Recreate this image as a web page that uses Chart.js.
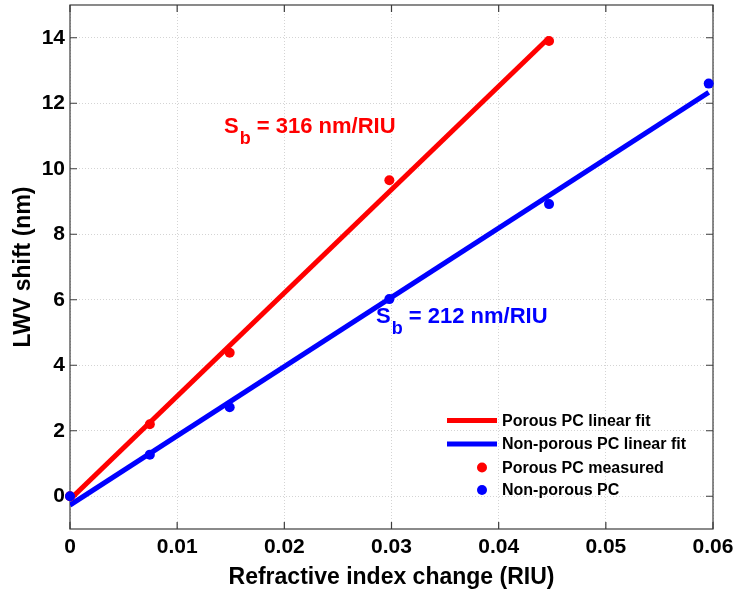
<!DOCTYPE html>
<html>
<head>
<meta charset="utf-8">
<title>LWV shift vs refractive index change</title>
<script src="https://cdn.jsdelivr.net/npm/chart.js@4"></script>
<style>
  html, body { margin: 0; padding: 0; background: #fff; }
  #wrap { width: 736px; height: 592px; }
</style>
</head>
<body>
<div id="wrap"><canvas id="lwvChart" width="736" height="592"></canvas></div>
<script>
// values
const riuChange = [0, 0.00745, 0.0149, 0.0298, 0.0447, 0.0596];
const porousShift = [0, 2.2, 4.38, 9.65, 13.9];
const nonPorousShift = [0, 1.27, 2.72, 6.02, 8.92, 12.6];

const porousFitX = [0, 0.0447];
const porousFitY = [-0.1, 14.0];
const nonPorousFitX = [0, 0.0596];
const nonPorousFitY = [-0.27, 12.33];

const xTicks = [0, 0.01, 0.02, 0.03, 0.04, 0.05, 0.06];
const yTicks = [0, 2, 4, 6, 8, 10, 12, 14];

const legendLabels = ['Porous PC linear fit', 'Non-porous PC linear fit', 'Porous PC measured', 'Non-porous PC'];
const sensLabels = ['316 nm/RIU', '212 nm/RIU'];

const RED = '#ff0000';
const BLUE = '#0000ff';
const FONT = 'Arial, "Liberation Sans", sans-serif';

function toPoints(xs, ys) {
  return ys.map((y, i) => ({ x: xs[i], y: y }));
}

// MATLAB style box + inward tick marks
const framePlugin = {
  id: 'frame',
  beforeDatasetsDraw(chart) {
    const { ctx, chartArea: a, scales } = chart;
    ctx.save();
    ctx.strokeStyle = '#3c3c3c';
    ctx.lineWidth = 1.2;
    ctx.strokeRect(a.left, a.top, a.right - a.left, a.bottom - a.top);
    ctx.beginPath();
    const len = 7;
    xTicks.forEach(v => {
      const px = scales.x.getPixelForValue(v);
      ctx.moveTo(px, a.bottom); ctx.lineTo(px, a.bottom - len);
      ctx.moveTo(px, a.top); ctx.lineTo(px, a.top + len);
    });
    yTicks.forEach(v => {
      const py = scales.y.getPixelForValue(v);
      ctx.moveTo(a.left, py); ctx.lineTo(a.left + len, py);
      ctx.moveTo(a.right, py); ctx.lineTo(a.right - len, py);
    });
    ctx.stroke();
    ctx.restore();
  }
};

// legend inside the plot, lower right
const innerLegend = {
  id: 'innerLegend',
  afterDraw(chart) {
    const { ctx } = chart;
    const x0 = 447, x1 = 497, dotX = 482, tx = 502;
    const rows = [420.5, 444, 467.5, 490];
    ctx.save();
    ctx.font = 'bold 16px ' + FONT;
    ctx.textBaseline = 'middle';
    chart.data.datasets.forEach((ds, i) => {
      const y = rows[i];
      if (ds.showLine) {
        ctx.strokeStyle = ds.borderColor;
        ctx.lineWidth = 5;
        ctx.beginPath();
        ctx.moveTo(x0, y); ctx.lineTo(x1, y);
        ctx.stroke();
      } else {
        ctx.fillStyle = ds.backgroundColor;
        ctx.beginPath();
        ctx.arc(dotX, y, 5, 0, Math.PI * 2);
        ctx.fill();
      }
      ctx.fillStyle = '#000';
      ctx.fillText(legendLabels[i], tx, y + 1);
    });
    ctx.restore();
  }
};

// S_b sensitivity labels
const sensPlugin = {
  id: 'sens',
  afterDraw(chart) {
    const { ctx } = chart;
    const spots = [
      { x: 224, y: 133, color: RED, text: sensLabels[0] },
      { x: 376, y: 323, color: BLUE, text: sensLabels[1] }
    ];
    ctx.save();
    ctx.textBaseline = 'alphabetic';
    spots.forEach(s => {
      ctx.fillStyle = s.color;
      ctx.font = 'bold 22px ' + FONT;
      ctx.fillText('S', s.x, s.y);
      let cx = s.x + ctx.measureText('S').width + 1;
      ctx.font = 'bold 18px ' + FONT;
      ctx.fillText('b', cx, s.y + 11);
      cx += ctx.measureText('b').width;
      ctx.font = 'bold 22px ' + FONT;
      ctx.fillText(' = ' + s.text, cx, s.y);
    });
    ctx.restore();
  }
};

const ctx = document.getElementById('lwvChart').getContext('2d');
new Chart(ctx, {
  type: 'scatter',
  data: {
    datasets: [
      {
        label: legendLabels[0],
        data: toPoints(porousFitX, porousFitY),
        showLine: true,
        borderColor: RED,
        backgroundColor: RED,
        borderWidth: 5,
        pointRadius: 0,
        order: 2
      },
      {
        label: legendLabels[1],
        data: toPoints(nonPorousFitX, nonPorousFitY),
        showLine: true,
        borderColor: BLUE,
        backgroundColor: BLUE,
        borderWidth: 5,
        pointRadius: 0,
        order: 2
      },
      {
        label: legendLabels[2],
        data: toPoints(riuChange, porousShift),
        showLine: false,
        backgroundColor: RED,
        borderColor: RED,
        pointRadius: 5,
        borderWidth: 0,
        clip: false,
        order: 1
      },
      {
        label: legendLabels[3],
        data: toPoints(riuChange, nonPorousShift),
        showLine: false,
        backgroundColor: BLUE,
        borderColor: BLUE,
        pointRadius: 5,
        borderWidth: 0,
        clip: false,
        order: 0
      }
    ]
  },
  options: {
    responsive: false,
    animation: false,
    layout: { padding: { top: 3, right: 23, left: 0, bottom: 0 } },
    plugins: {
      legend: { display: false },
      tooltip: { enabled: false }
    },
    scales: {
      x: {
        type: 'linear',
        min: 0,
        max: 0.06,
        afterBuildTicks: s => { s.ticks = xTicks.map(v => ({ value: v })); },
        afterFit: s => { s.height = 63; s.paddingLeft = 0; s.paddingRight = 0; },
        ticks: {
          color: '#000',
          font: { family: FONT, size: 21, weight: 'bold' },
          padding: 6,
          maxRotation: 0,
          callback: v => String(+v.toFixed(2))
        },
        grid: { color: '#d4d4d4', drawTicks: false, lineWidth: 1 },
        border: { display: false, dash: [1, 2] },
        title: {
          display: true,
          text: 'Refractive index change (RIU)',
          color: '#000',
          font: { family: FONT, size: 23, weight: 'bold' },
          padding: { top: 0, bottom: 1 }
        }
      },
      y: {
        type: 'linear',
        min: -1,
        max: 15,
        afterBuildTicks: s => { s.ticks = yTicks.map(v => ({ value: v })); },
        afterFit: s => { s.width = 70; s.paddingTop = 0; s.paddingBottom = 0; },
        ticks: {
          color: '#000',
          font: { family: FONT, size: 21, weight: 'bold' },
          padding: 5
        },
        grid: { color: '#d4d4d4', drawTicks: false, lineWidth: 1 },
        border: { display: false, dash: [1, 2] },
        title: {
          display: true,
          text: 'LWV shift (nm)',
          color: '#000',
          font: { family: FONT, size: 23, weight: 'bold' },
          padding: { top: 10, bottom: 0 }
        }
      }
    }
  },
  plugins: [framePlugin, innerLegend, sensPlugin]
});
</script>
</body>
</html>
